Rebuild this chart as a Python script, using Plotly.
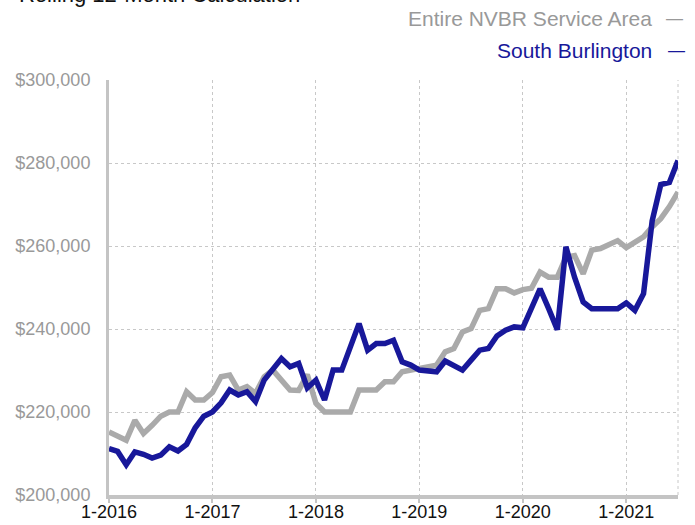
import plotly.graph_objects as go

months = [f"{m}-{y}" for y in range(2016, 2022) for m in range(1, 13)][:67]

nvbr = [215.2, 214.2, 213.2, 218.0, 214.8, 216.8, 219.0, 220.0, 220.0, 224.9, 222.9, 222.9,
        224.7, 228.5, 228.9, 225.3, 226.1, 224.5, 228.5, 230.1, 227.7, 225.3, 225.2, 229.0,
        222.1, 220.0, 220.0, 220.0, 220.0, 225.3, 225.3, 225.3, 227.3, 227.3, 229.7, 230.1,
        230.5, 230.9, 231.3, 234.5, 235.3, 239.3, 240.1, 244.5, 244.9, 249.7, 249.7, 248.7,
        249.5, 249.8, 253.7, 252.5, 252.5, 257.3, 257.7, 253.3, 259.0, 259.4, 260.2, 261.3,
        259.6, 260.9, 262.2, 264.6, 266.6, 269.5, 273.0]
south_burlington = [211.2, 210.5, 207.3, 210.4, 209.8, 208.9, 209.6, 211.6, 210.6, 212.2, 216.2, 219.0,
                    220.0, 222.2, 225.3, 224.1, 224.9, 222.5, 227.7, 230.5, 232.9, 230.9, 231.7, 225.8,
                    227.7, 222.9, 230.1, 230.1, 236.1, 241.3, 234.9, 236.5, 236.5, 237.3, 232.1, 231.3,
                    230.1, 230.0, 229.7, 232.3, 231.3, 230.1, 232.5, 234.9, 235.3, 238.3, 239.7, 240.5,
                    240.3, 245.3, 249.7, 244.9, 239.8, 259.8, 252.5, 246.5, 244.9, 244.9, 244.9, 244.9,
                    246.3, 244.5, 248.5, 266.0, 274.8, 275.3, 280.6]
nvbr = [v * 1000 for v in nvbr]
south_burlington = [v * 1000 for v in south_burlington]

x_ticks = ["1-2016", "1-2017", "1-2018", "1-2019", "1-2020", "1-2021"]
y_ticks = [200000, 220000, 240000, 260000, 280000, 300000]

GRAY = "#aaaaaa"
BLUE = "#18189a"
FONT = "Liberation Sans, Arial, sans-serif"

fig = go.Figure()
fig.add_trace(go.Scatter(x=months, y=nvbr, mode="lines", name="Entire NVBR Service Area",
                         line=dict(color=GRAY, width=5.5), showlegend=False, hoverinfo="skip"))
fig.add_trace(go.Scatter(x=months, y=south_burlington, mode="lines", name="South Burlington",
                         line=dict(color=BLUE, width=5.5), showlegend=False, hoverinfo="skip"))

fig.update_layout(
    width=695, height=525,
    margin=dict(l=109, r=17, t=80, b=30),
    paper_bgcolor="white", plot_bgcolor="white",
    font=dict(family=FONT),
    xaxis=dict(type="category", categoryorder="array", categoryarray=months,
               range=[0, len(months) - 1], automargin=False,
               tickmode="array", tickvals=x_ticks, ticktext=x_ticks,
               showgrid=True, gridcolor="#c8c8c8", griddash="dot", gridwidth=1,
               showline=True, linecolor="#c4c4c4", linewidth=4,
               ticks="outside", ticklen=4, tickwidth=2, tickcolor="#c4c4c4",
               ticklabelstandoff=-7,
               tickfont=dict(size=18, color="#111111", family=FONT)),
    yaxis=dict(range=[200000, 300000], tickvals=y_ticks, tickformat="$,.0f",
               automargin=False,
               showgrid=True, gridcolor="#c8c8c8", griddash="dot", gridwidth=1,
               showline=True, linecolor="#c4c4c4", linewidth=3, zeroline=False,
               ticks="", ticklabelstandoff=12,
               tickfont=dict(size=18, color="#999999", family=FONT)),
)

fig.add_shape(type="line", xref="paper", yref="paper", x0=1, x1=1, y0=0, y1=1,
              line=dict(color="#c8c8c8", width=1, dash="dot"), layer="below")

fig.add_annotation(text="Rolling 12-Month Calculation", xref="paper", yref="paper",
                   x=-0.162, y=1, yshift=100, xanchor="left", yanchor="top", showarrow=False,
                   font=dict(size=22, color="#111111", family=FONT))

legend_items = [("Entire NVBR Service Area", "#999999", 61.5, 0.9945),
                ("South Burlington", BLUE, 30, 0.998)]
for label, color, shift, dash_x in legend_items:
    fig.add_annotation(text=label, xref="paper", yref="paper",
                       x=0.9578, y=1, yshift=shift, xanchor="right", yanchor="middle",
                       showarrow=False, font=dict(size=21, color=color, family=FONT))
    fig.add_annotation(text="\u2014", xref="paper", yref="paper",
                       x=dash_x, y=1, yshift=shift, xanchor="center", yanchor="middle",
                       showarrow=False, font=dict(size=17, color=color, family=FONT))

fig.write_html("out.html", config={"displayModeBar": False},
               post_script="document.body.style.margin='0';")
